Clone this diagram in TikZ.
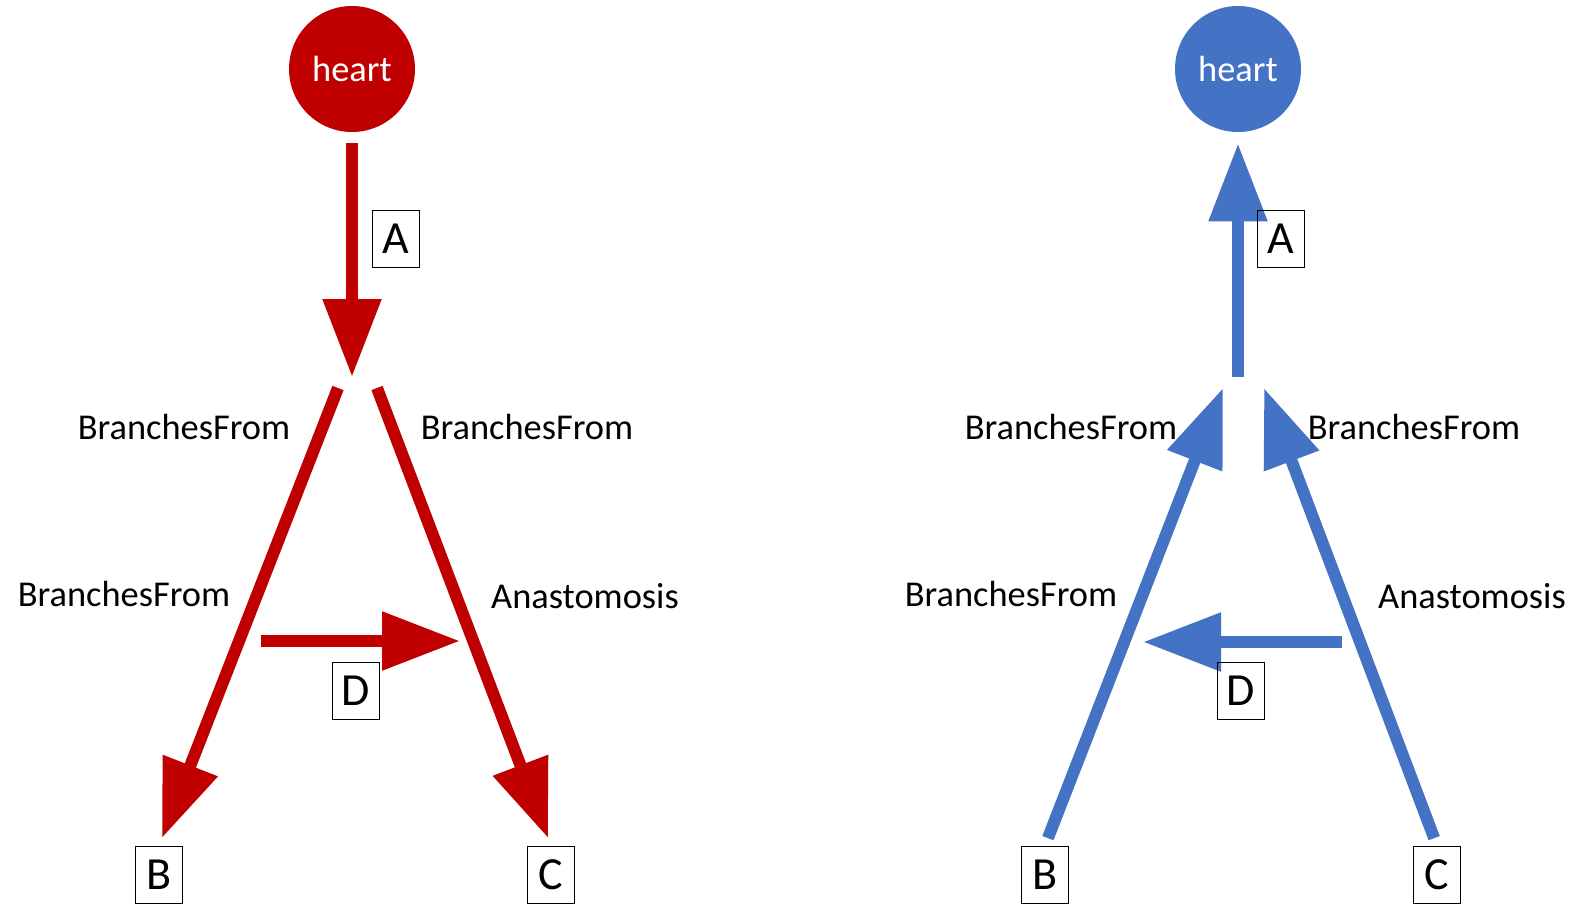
\documentclass[tikz,border=0pt]{standalone}
\usepackage{fontspec}
\setmainfont{Carlito}
\usetikzlibrary{arrows.meta}
\definecolor{vermelho}{HTML}{C00000}
\definecolor{azul}{HTML}{4472C4}

\begin{document}
\begin{tikzpicture}[x=0.5pt, y=-0.5pt,
    seta/.style={line width=6pt, -{Triangle[length=39pt, width=28pt]}},
    caixa/.style={draw, line width=0.9pt, minimum width=23.5pt, minimum height=28.5pt,
        inner sep=0pt, font=\fontsize{23}{26}\selectfont},
    rotulo/.style={font=\fontsize{18.2}{22}\selectfont},
    coracao/.style={circle, minimum size=63pt, inner sep=0pt, text=white,
        font=\fontsize{18.2}{22}\selectfont}]
    \useasboundingbox (0,0) rectangle (1575,906);

    % Coracoes
    \node[coracao, fill=vermelho] (heartL) at (352,69) {heart};
    \node[coracao, fill=azul] (heartR) at (1238,69) {heart};

    % Caixas de baixo
    \foreach \n/\x/\y/\t in {BL/159/875/B, CL/551/875/C, BR/1045/875/B, CR/1437/875/C}
        \node[caixa] (\n) at (\x,\y) {\t};

    % Rotulos
    \foreach \n/\x/\y/\t in {bfL1/184/427/BranchesFrom, bfL2/527/427/BranchesFrom,
                             bfL3/124/594/BranchesFrom, anL/585/596/Anastomosis,
                             bfR1/1071/427/BranchesFrom, bfR2/1414/427/BranchesFrom,
                             bfR3/1011/594/BranchesFrom, anR/1472/596/Anastomosis}
        \node[rotulo] (\n) at (\x,\y) {\t};

    % Pontos livres
    \coordinate (jL) at (352,377);
    \coordinate (sBL) at (338,388);
    \coordinate (sCL) at (377,388);
    \coordinate (dL1) at (261,641);
    \coordinate (dL2) at (460,641);
    \coordinate (jR) at (1238,377);
    \coordinate (eBR) at (1223,388);
    \coordinate (eCR) at (1264,388);
    \coordinate (dR1) at (1342,642);
    \coordinate (dR2) at (1143,642);

    % Setas (esquerda)
    \draw[seta, vermelho, shorten <=5.5pt] (heartL) -- (jL);
    \draw[seta, vermelho, shorten >=4pt] (sBL) -- (BL.north);
    \draw[seta, vermelho, shorten >=4pt] (sCL) -- (CL.north);
    \draw[seta, vermelho] (dL1) -- (dL2);

    % Setas (direita)
    \draw[seta, azul, shorten >=5.5pt] (jR) -- (heartR);
    \draw[seta, azul, shorten <=4pt] (BR.north) -- (eBR);
    \draw[seta, azul, shorten <=4pt] (CR.north) -- (eCR);
    \draw[seta, azul] (dR1) -- (dR2);

    % Caixas A e D
    \foreach \n/\x/\y/\t in {AL/396/239/A, DL/356/691/D, AR/1281/239/A, DR/1241/691/D}
        \node[caixa] (\n) at (\x,\y) {\t};
\end{tikzpicture}
\end{document}
